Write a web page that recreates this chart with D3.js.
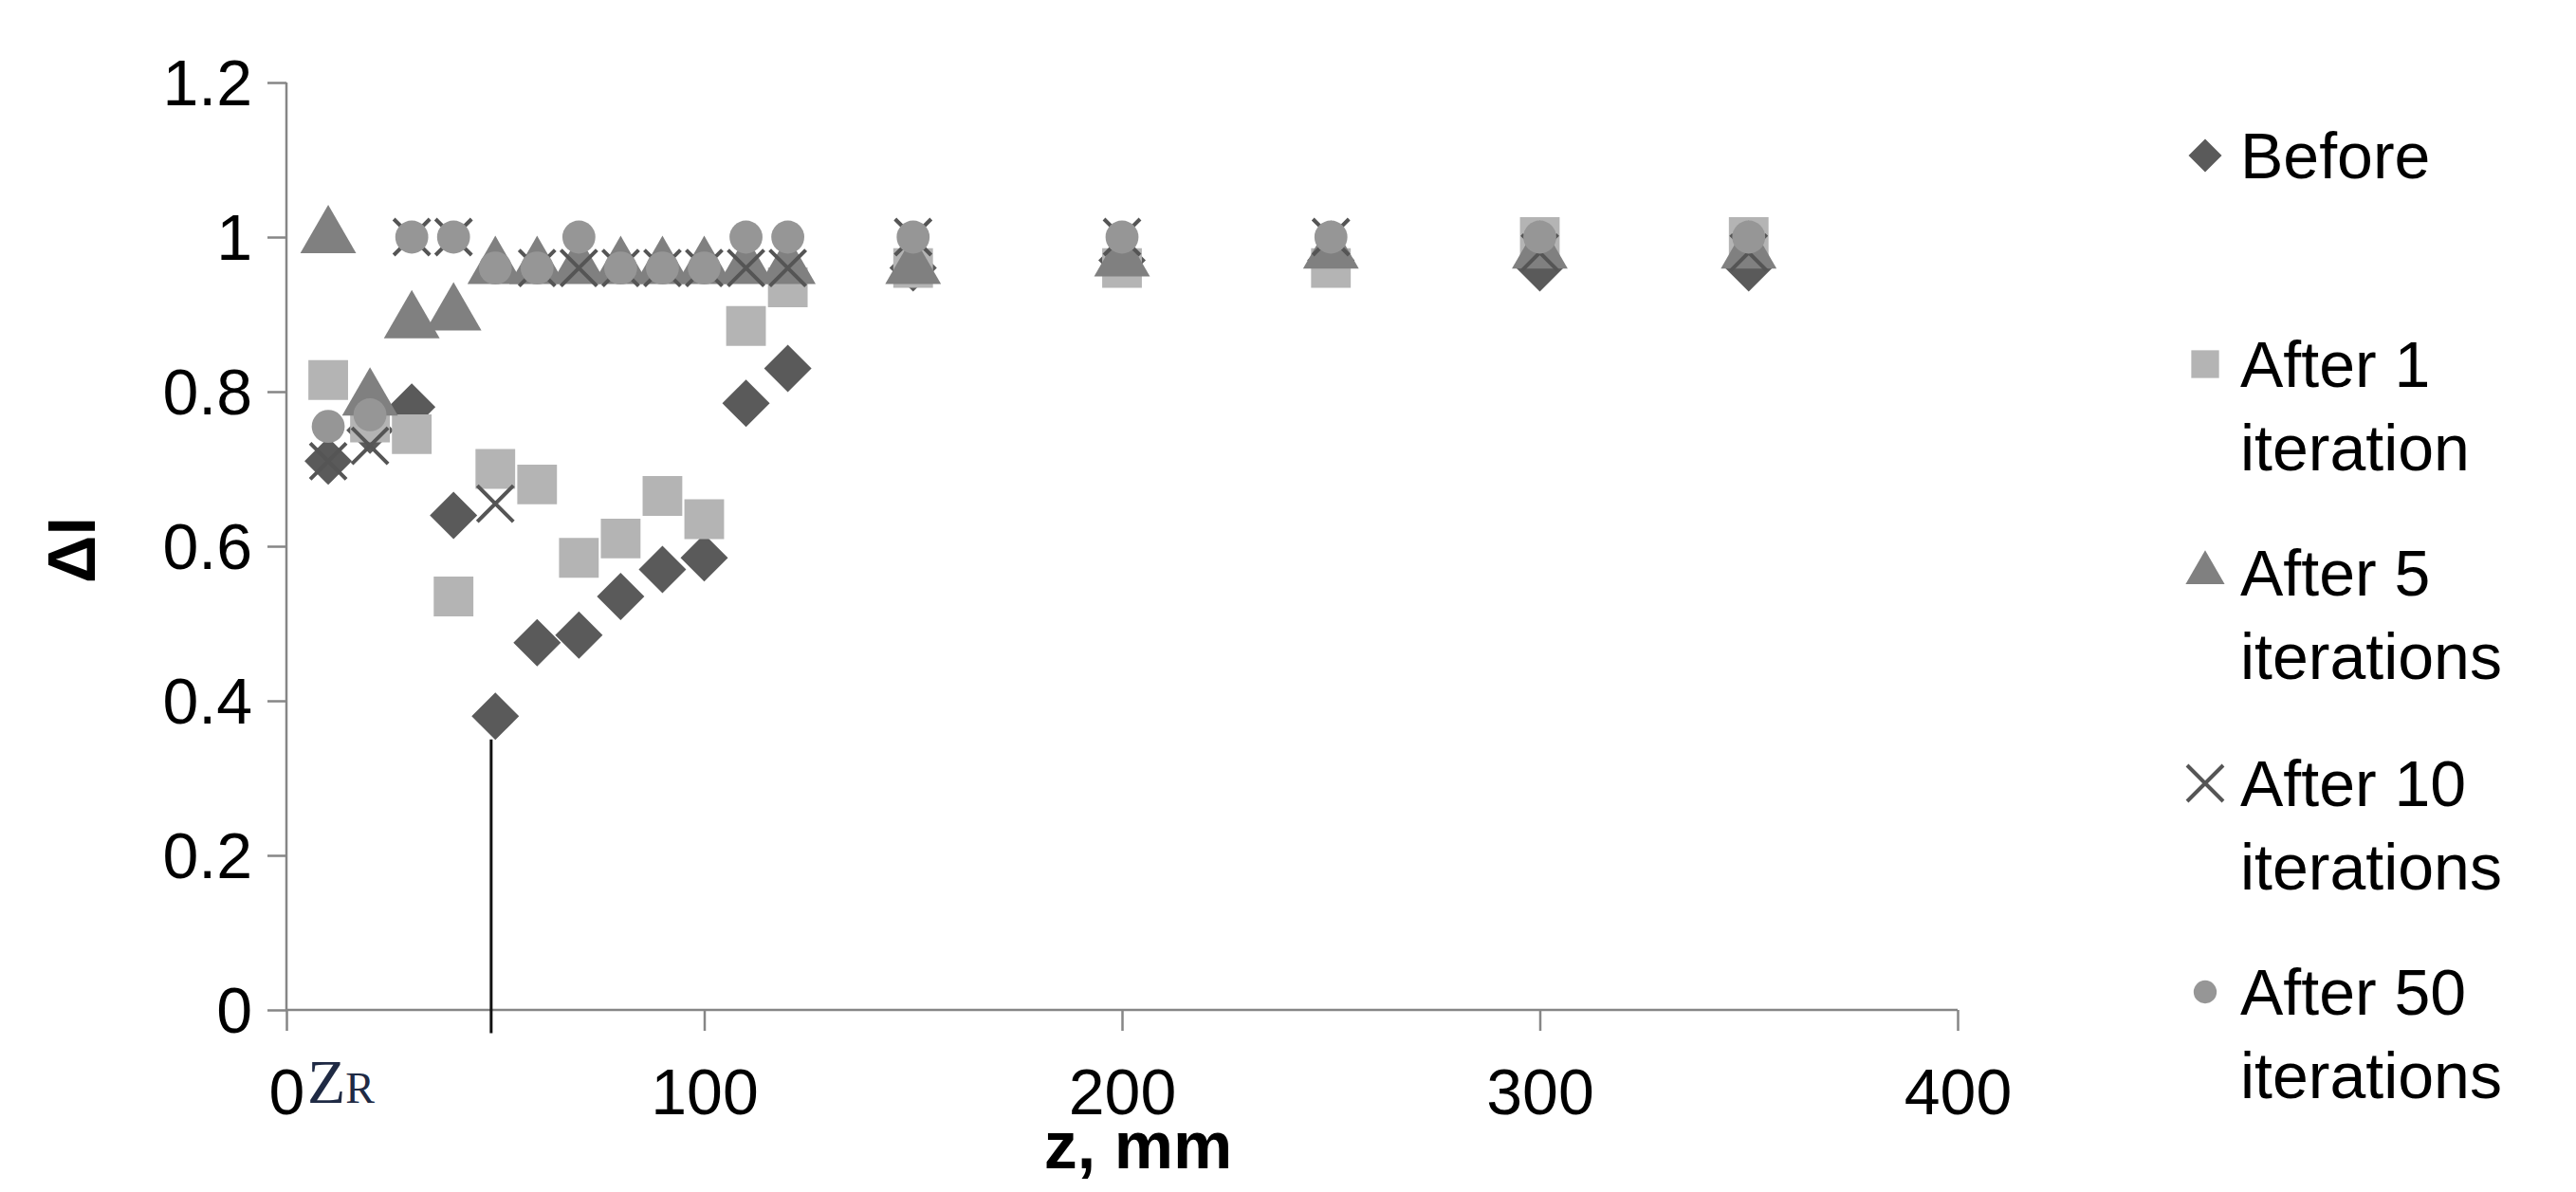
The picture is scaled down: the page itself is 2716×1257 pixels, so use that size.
<!DOCTYPE html>
<html><head><meta charset="utf-8">
<script src="https://cdn.jsdelivr.net/npm/d3@7"></script>
<style>body{margin:0;background:#fff}text{font-family:"Liberation Sans",Arial,sans-serif}</style>
</head><body>
<script>
// Data
const zValues = [10, 20, 30, 40, 50, 60, 70, 80, 90, 100, 110, 120, 150, 200, 250, 300, 350]
const before = [0.71, 0.75, 0.78, 0.64, 0.38, 0.475, 0.485, 0.535, 0.57, 0.585, 0.785, 0.83, 0.96, 0.97, 0.97, 0.96, 0.96]
const after1 = [0.815, 0.76, 0.745, 0.535, 0.70, 0.68, 0.585, 0.61, 0.665, 0.635, 0.885, 0.935, 0.96, 0.96, 0.96, 1.0, 1.0]
const after5 = [1.0, 0.79, 0.89, 0.90, 0.96, 0.96, 0.96, 0.96, 0.96, 0.96, 0.96, 0.96, 0.96, 0.97, 0.98, 0.98, 0.98]
const after10 = [0.71, 0.73, 1.0, 1.0, 0.655, 0.96, 0.96, 0.96, 0.96, 0.96, 0.96, 0.96, 1.0, 1.0, 1.0, 0.98, 0.98]
const after50 = [0.755, 0.77, 1.0, 1.0, 0.96, 0.96, 1.0, 0.96, 0.96, 0.96, 1.0, 1.0, 1.0, 1.0, 1.0, 1.0, 1.0]
const xTicks = [0, 100, 200, 300, 400]
const yTicks = [0, 0.2, 0.4, 0.6, 0.8, 1, 1.2]
const zrLine = 49

const series = [
  { name: ['Before'], values: before, shape: 'diamond', color: '#5a5a5a' },
  { name: ['After 1', 'iteration'], values: after1, shape: 'square', color: '#b4b4b4' },
  { name: ['After 5', 'iterations'], values: after5, shape: 'triangle', color: '#808080' },
  { name: ['After 10', 'iterations'], values: after10, shape: 'cross', color: '#555555' },
  { name: ['After 50', 'iterations'], values: after50, shape: 'circle', color: '#969696' },
]

const svg = d3.select('body').append('svg').attr('width', 2716).attr('height', 1257)
const x = d3.scaleLinear().domain([0, 400]).range([302, 2064])
const y = d3.scaleLinear().domain([0, 1.2]).range([1065, 87])
const axisColor = '#868686'

// Axes
const xAxis = svg.append('g').attr('transform', `translate(0,${y(0)})`)
  .call(d3.axisBottom(x).tickValues(xTicks).tickSize(22).tickFormat(d => d))
const yAxis = svg.append('g').attr('transform', `translate(${x(0)},0)`)
  .call(d3.axisLeft(y).tickValues(yTicks).tickSize(20).tickFormat(d => d))
for (const g of [xAxis, yAxis]) {
  g.selectAll('path,line').attr('stroke', axisColor).attr('stroke-width', 2.5)
  g.selectAll('text').attr('font-size', 68).attr('fill', '#000')
}
xAxis.select('.domain').attr('d', `M${x(0)},0H${x(400)}`)
yAxis.select('.domain').attr('d', `M0,${y(1.2)}V${y(0)}`)
xAxis.selectAll('text').attr('dy', 0).attr('y', 110)
yAxis.selectAll('text').attr('x', -36).attr('dy', '0.35em')

// Axis titles
svg.append('text').attr('x', 1200).attr('y', 1232).attr('text-anchor', 'middle')
  .attr('font-size', 70).attr('font-weight', 'bold').text('z, mm')
svg.append('text').attr('transform', 'translate(100,580) rotate(-90)').attr('text-anchor', 'middle')
  .attr('font-size', 70).attr('font-weight', 'bold').text('ΔI')

// Z_R marker line and label
svg.append('line').attr('x1', x(zrLine)).attr('x2', x(zrLine))
  .attr('y1', y(0.35)).attr('y2', y(-0.03)).attr('stroke', '#111').attr('stroke-width', 3)
const zr = svg.append('text').attr('x', 324).attr('y', 1163)
  .style('font-family', '"Liberation Serif","DejaVu Serif",serif').attr('fill', '#1f2a44').attr('font-size', 66)
zr.append('tspan').text('Z')
zr.append('tspan').attr('font-size', 46).text('R')

const sym = {
  diamond: d3.symbol(d3.symbolSquare, 1250),
  square: d3.symbol(d3.symbolSquare, 1750),
  triangle: d3.symbol(d3.symbolTriangle, 1500),
  circle: d3.symbol(d3.symbolCircle, 950),
}

function drawMark(g, s, cx, cy, scale = 1) {
  if (s.shape === 'cross') {
    const r = 19 * scale
    g.append('path').attr('d', `M${cx - r},${cy - r}L${cx + r},${cy + r}M${cx - r},${cy + r}L${cx + r},${cy - r}`)
      .attr('stroke', s.color).attr('stroke-width', 4).attr('fill', 'none')
  } else {
    const rot = s.shape === 'diamond' ? ' rotate(45)' : ''
    g.append('path').attr('d', sym[s.shape]())
      .attr('transform', `translate(${cx},${cy}) scale(${scale})${rot}`).attr('fill', s.color)
  }
}

// Points
const plot = svg.append('g')
series.forEach(s => {
  zValues.forEach((z, i) => drawMark(plot, s, x(z), y(s.values[i])))
})

// Legend
const legendRows = [188, 408, 628, 850, 1070]
const legend = svg.append('g')
series.forEach((s, i) => {
  const by = legendRows[i]
  drawMark(legend, s, 2325, by - 24, s.shape === 'cross' ? 1 : 0.7)
  s.name.forEach((line, j) => {
    legend.append('text').attr('x', 2362).attr('y', by + j * 88)
      .attr('font-size', 68).text(line)
  })
})
</script>
</body></html>
